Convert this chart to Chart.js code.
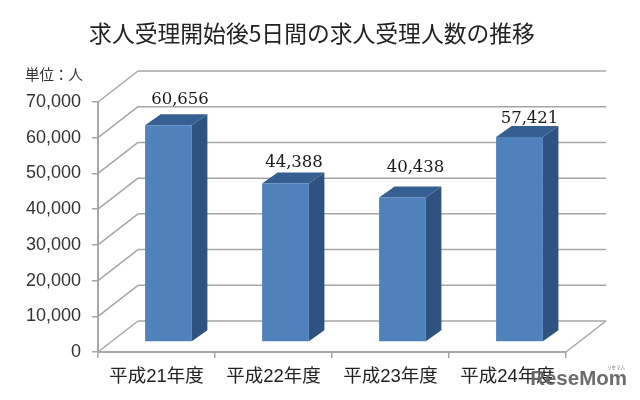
<!DOCTYPE html>
<html lang="ja">
<head>
<meta charset="utf-8">
<title>求人受理人数の推移</title>
<script src="https://cdn.jsdelivr.net/npm/chart.js@4"></script>
<style>
  html, body { margin: 0; padding: 0; background: #fff; }
  canvas { display: block; }
</style>
</head>
<body>
<canvas id="chart" width="640" height="400"></canvas>
<script>
'use strict';

const chartTitle = '求人受理開始後5日間の求人受理人数の推移';
const unitNote = '単位\uFF1A人';
const years = ['平成21年度', '平成22年度', '平成23年度', '平成24年度'];
const applicants = [60656, 44388, 40438, 57421];
const axisMax = 70000;
const axisStep = 10000;

// the value labels were placed by hand in the original, so they don't follow a rule
const labelShiftX = [11.5, 8.5, 13, 10];
const labelLift = [26, 21, 30, 18];

const sans = '"Liberation Sans", Arial, sans-serif';
const cjk = '"Liberation Sans", "Noto Sans CJK JP", sans-serif';
const gridColor = '#a6a6a6';

// fake 3D: how far the back wall and the bars sit from the axes
const wall = { dx: 40, dy: -31 };
const barShift = { dx: 12, dy: -10 };
const barDepth = { dx: 15.5, dy: -11 };

function line(ctx, x1, y1, x2, y2) {
  ctx.beginPath();
  ctx.moveTo(x1, y1);
  ctx.lineTo(x2, y2);
  ctx.stroke();
}

function face(ctx, color, pts) {
  ctx.fillStyle = color;
  ctx.beginPath();
  pts.forEach(function(p, i) {
    if (i === 0) ctx.moveTo(p[0], p[1]);
    else ctx.lineTo(p[0], p[1]);
  });
  ctx.closePath();
  ctx.fill();
}

const box3d = {
  id: 'box3d',
  // back wall, floor and the diagonal part of every grid line
  beforeDatasetsDraw: function(chart) {
    const ctx = chart.ctx;
    const area = chart.chartArea;
    const y = chart.scales.y;
    ctx.save();
    ctx.strokeStyle = gridColor;
    ctx.lineWidth = 1.5;
    y.ticks.forEach(function(t) {
      const py = y.getPixelForValue(t.value);
      line(ctx, area.left, py, area.left + wall.dx, py + wall.dy);
      line(ctx, area.left + wall.dx, py + wall.dy, area.right + wall.dx, py + wall.dy);
    });
    line(ctx, area.right, area.bottom, area.right + wall.dx, area.bottom + wall.dy);
    ctx.restore();

    // bars are drawn on the floor, a bit behind the axis
    ctx.save();
    ctx.translate(barShift.dx, barShift.dy);
    chart.getDatasetMeta(0).data.forEach(function(bar) {
      const l = bar.x - bar.width / 2;
      const r = bar.x + bar.width / 2;
      const d = barDepth;
      face(ctx, '#2f5380', [[r, bar.y], [r + d.dx, bar.y + d.dy], [r + d.dx, bar.base + d.dy], [r, bar.base]]);
      face(ctx, '#365f91', [[l, bar.y], [l + d.dx, bar.y + d.dy], [r + d.dx, bar.y + d.dy], [r, bar.y]]);
    });
    ctx.restore();
    ctx.save();
    ctx.translate(barShift.dx, barShift.dy);
  },
  afterDatasetsDraw: function(chart) {
    const ctx = chart.ctx;
    ctx.restore();

    ctx.save();
    ctx.fillStyle = '#1a1a1a';
    ctx.font = '16.5px "DejaVu Serif", serif';
    ctx.textAlign = 'center';
    ctx.textBaseline = 'middle';
    chart.getDatasetMeta(0).data.forEach(function(bar, i) {
      ctx.fillText(applicants[i].toLocaleString('en-US'),
        bar.x + barShift.dx + labelShiftX[i],
        bar.y + barShift.dy - labelLift[i]);
    });
    ctx.restore();

    // title sits off centre in the original, the built-in one can't do that
    ctx.save();
    ctx.fillStyle = '#222';
    ctx.font = '22.8px "Noto Sans CJK JP", sans-serif';
    ctx.textAlign = 'center';
    ctx.textBaseline = 'middle';
    ctx.fillText(chartTitle, 312, 33);
    ctx.restore();

    // unit note
    ctx.save();
    ctx.fillStyle = '#333';
    ctx.font = '14.5px "Noto Sans CJK JP", sans-serif';
    ctx.textBaseline = 'middle';
    ctx.fillText(unitNote, 25, 74);
    ctx.restore();

    // watermark
    ctx.save();
    ctx.fillStyle = 'rgba(100,100,100,0.95)';
    ctx.font = 'bold 20.5px ' + sans;
    ctx.textAlign = 'right';
    ctx.textBaseline = 'alphabetic';
    ctx.fillText('ReseMom', 627, 385);
    ctx.font = '4.5px ' + cjk;
    ctx.fillText('リセマム', 625, 369);
    ctx.restore();
  }
};

new Chart(document.getElementById('chart'), {
  type: 'bar',
  data: {
    labels: years,
    datasets: [{
      data: applicants,
      backgroundColor: '#4f81bd',
      borderWidth: 0,
      categoryPercentage: 1,
      barPercentage: 0.4,
      clip: false
    }]
  },
  plugins: [box3d],
  options: {
    responsive: false,
    animation: false,
    devicePixelRatio: 1,
    layout: { padding: { top: 102, right: 74 } },
    plugins: {
      legend: { display: false },
      tooltip: { enabled: false }
    },
    scales: {
      x: {
        afterFit: function(scale) { scale.height = 48; },
        border: { color: gridColor, width: 2 },
        grid: { drawOnChartArea: false, drawTicks: true, tickLength: 6, color: gridColor, lineWidth: 1.5 },
        ticks: {
          autoSkip: false,
          maxRotation: 0,
          padding: 8,
          color: '#222',
          font: { family: cjk, size: 18.5 }
        }
      },
      y: {
        min: 0,
        max: axisMax,
        afterFit: function(scale) { scale.width = 98; },
        border: { color: gridColor, width: 2 },
        grid: { drawOnChartArea: false, drawTicks: true, tickLength: 6, color: gridColor, lineWidth: 1.5 },
        ticks: {
          stepSize: axisStep,
          padding: 11,
          color: '#333',
          font: { family: sans, size: 18 },
          callback: function(v) { return v.toLocaleString('en-US'); }
        }
      }
    }
  }
});
</script>
</body>
</html>
